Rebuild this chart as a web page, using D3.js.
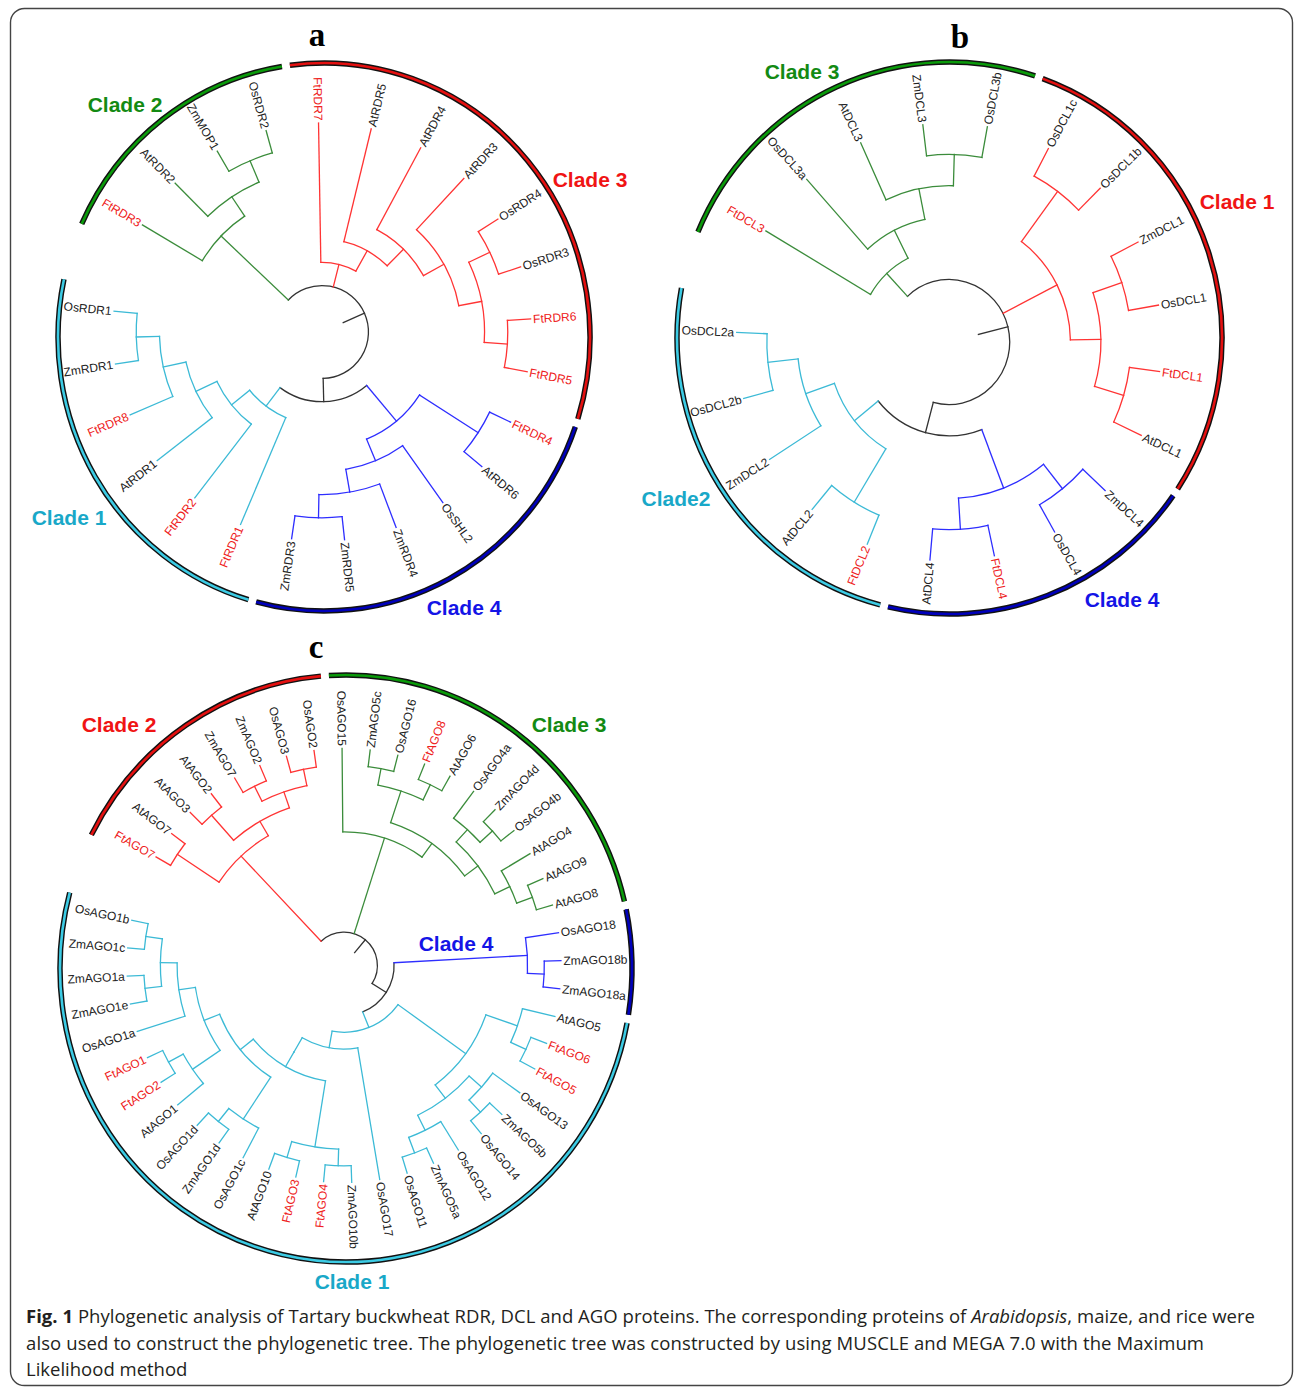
<!DOCTYPE html>
<html>
<head>
<meta charset="utf-8">
<script src="https://cdn.jsdelivr.net/npm/d3@7/dist/d3.min.js"></script>
<style>
  body { margin: 0; background: #fff; }
  svg { display: block; }
</style>
</head>
<body>
<svg id="fig" width="1295" height="1389"></svg>
<script>
// ---------- Panel a: RDR proteins ----------
const rdrNewick = "((FtRDR3,(AtRDR2,(ZmMOP1,OsRDR2))),(FtRDR7,(AtRDR5,(AtRDR4,(AtRDR3,((OsRDR4,OsRDR3),(FtRDR6,FtRDR5)))))),(((FtRDR4,AtRDR6),(OsSHL2,(ZmRDR4,(ZmRDR5,ZmRDR3)))),(FtRDR1,(FtRDR2,(AtRDR1,(FtRDR8,(ZmRDR1,OsRDR1)))))));";
const rdrCladeNames = ["Clade 2", "Clade 3", "Clade 4", "Clade 1"];
const rdrCladeFirst = ["FtRDR3", "FtRDR7", "FtRDR4", "FtRDR1"];
const rdrCladeLast  = ["OsRDR2", "FtRDR5", "ZmRDR3", "OsRDR1"];

// ---------- Panel b: DCL proteins ----------
const dclNewick = "((FtDCL3,(OsDCL3a,(AtDCL3,(ZmDCL3,OsDCL3b)))),((OsDCL1c,OsDCL1b),((ZmDCL1,OsDCL1),(FtDCL1,AtDCL1))),(((ZmDCL4,OsDCL4),(FtDCL4,AtDCL4)),((FtDCL2,AtDCL2),(ZmDCL2,(OsDCL2b,OsDCL2a)))));";
const dclCladeNames = ["Clade 3", "Clade 1", "Clade 4", "Clade2"];
const dclCladeFirst = ["FtDCL3", "OsDCL1c", "ZmDCL4", "FtDCL2"];
const dclCladeLast  = ["OsDCL3b", "AtDCL1", "AtDCL4", "OsDCL2a"];

// ---------- Panel c: AGO proteins ----------
const agoNewick = "(((FtAGO7,AtAGO7),((AtAGO3,AtAGO2),((ZmAGO7,ZmAGO2),(OsAGO3,OsAGO2)))),(OsAGO15,(((ZmAGO5c,OsAGO16),(FtAGO8,AtAGO6)),((OsAGO4a,(ZmAGO4d,OsAGO4b)),(AtAGO4,(AtAGO9,AtAGO8))))),((OsAGO18,(ZmAGO18b,ZmAGO18a)),(((AtAGO5,(FtAGO6,FtAGO5)),((OsAGO13,(ZmAGO5b,OsAGO14)),(OsAGO12,(ZmAGO5a,OsAGO11)))),(OsAGO17,((((ZmAGO10b,FtAGO4),(FtAGO3,AtAGO10)),((OsAGO1c,(ZmAGO1d,OsAGO1d)),((AtAGO1,(FtAGO2,FtAGO1)),(OsAGO1a,((ZmAGO1e,ZmAGO1a),(ZmAGO1c,OsAGO1b)))))))))));";
const agoCladeNames = ["Clade 2", "Clade 3", "Clade 4", "Clade 1"];
const agoCladeFirst = ["FtAGO7", "OsAGO15", "OsAGO18", "AtAGO5"];
const agoCladeLast  = ["OsAGO2", "AtAGO8", "ZmAGO18a", "OsAGO1b"];

// ---------- Caption ----------
const captionLines = [
  [["b", "Fig. 1"], ["n", " Phylogenetic analysis of Tartary buckwheat RDR, DCL and AGO proteins. The corresponding proteins of "], ["i", "Arabidopsis"], ["n", ", maize, and rice were"]],
  [["n", "also used to construct the phylogenetic tree. The phylogenetic tree was constructed by using MUSCLE and MEGA 7.0 with the Maximum"]],
  [["n", "Likelihood method"]]
];

// ---------- Styling ----------
const hue = {
  green: { branch: "#3b8c3b", ring: "#0a9a0a", text: "#138a13" },
  red:   { branch: "#ff3434", ring: "#e41010", text: "#f01414" },
  blue:  { branch: "#2e2eff", ring: "#0000bb", text: "#1414e6" },
  cyan:  { branch: "#3cbad6", ring: "#3ccbe4", text: "#19a8c8" }
};
const backbone = "#333";

// Layout of each panel: tree centre / tip radius / vertical aspect, the clade ring
// ellipse, where the clade names sit, and the panel letter.
const panels = [
  { newick: rdrNewick, names: rdrCladeNames, first: rdrCladeFirst, last: rdrCladeLast,
    hues: ["green", "red", "blue", "cyan"],
    cx: 322, cy: 332, rLeaf: 209, ky: 1.0, start: 300.8, sweep: 349.5, font: 12,
    ring: { cx: 324, cy: 337, rx: 266, ry: 274 },
    labelXY: [[125, 104], [590, 179], [464, 607], [69, 517]],
    letter: "a", letterXY: [317, 46] },
  { newick: dclNewick, names: dclCladeNames, first: dclCladeFirst, last: dclCladeLast,
    hues: ["green", "red", "blue", "cyan"],
    cx: 949, cy: 342, rLeaf: 212.5, ky: 1.03, start: 300.5, sweep: 349.5, font: 12,
    ring: { cx: 949.5, cy: 338, rx: 272.5, ry: 276 },
    labelXY: [[802, 71], [1237, 201], [1122, 599], [676, 498]],
    letter: "b", letterXY: [960, 48] },
  { newick: agoNewick, names: agoCladeNames, first: agoCladeFirst, last: agoCladeLast,
    hues: ["red", "green", "blue", "cyan"],
    cx: 344, cy: 965.5, rLeaf: 217, ky: 1.0, start: 300, sweep: 349.5, font: 12,
    ring: { cx: 346, cy: 968.5, rx: 286, ry: 293.5 },
    labelXY: [[119, 724], [569, 724], [456, 943], [352, 1281]],
    letter: "c", letterXY: [316, 658] }
];

// Minimal Newick reader (topology only)
function parseNewick(s) {
  let i = 0;
  function node() {
    const n = {};
    if (s[i] === "(") {
      i++;
      n.children = [node()];
      while (s[i] === ",") { i++; n.children.push(node()); }
      i++;
    }
    let name = "";
    while (i < s.length && !",();".includes(s[i])) name += s[i++];
    n.name = name.trim();
    return n;
  }
  return node();
}

const svg = d3.select("#fig");
const toRad = d => d * Math.PI / 180;

// angle in degrees, clockwise from 12 o'clock; elliptical radii rx, ry
const pt = (a, rx, ry) => [rx * Math.sin(toRad(a)), -ry * Math.cos(toRad(a))];
const arcPath = (rx, ry, a0, a1) => {
  const s = pt(a0, rx, ry), e = pt(a1, rx, ry);
  const large = Math.abs(a1 - a0) > 180 ? 1 : 0;
  const sweep = a1 >= a0 ? 1 : 0;
  return `M${s[0]},${s[1]}A${rx},${ry} 0 ${large} ${sweep} ${e[0]},${e[1]}`;
};

// frame
svg.append("rect")
  .attr("x", 10.5).attr("y", 8.5).attr("width", 1282).attr("height", 1377)
  .attr("rx", 14).attr("fill", "none").attr("stroke", "#444").attr("stroke-width", 1.4);

panels.forEach(p => {
  const g = svg.append("g").attr("transform", `translate(${p.cx},${p.cy})`);
  const root = d3.hierarchy(parseNewick(p.newick));
  const leaves = root.leaves();
  const n = leaves.length;
  const step = p.sweep / n;
  const angle = d3.scaleLinear().domain([0, n - 1]).range([p.start, p.start + (n - 1) * step]);
  const radius = d3.scaleLinear().domain([0, root.height + 2]).range([p.rLeaf, 0]);

  const index = new Map();
  leaves.forEach((l, i) => { l.a = angle(i); index.set(l.data.name, i); });
  root.eachAfter(d => {
    if (d.children) {
      d.a = (d.children[0].a + d.children[d.children.length - 1].a) / 2;
      d.lo = d.children[0].lo; d.hi = d.children[d.children.length - 1].hi;
    } else {
      d.lo = d.hi = index.get(d.data.name);
    }
  });

  const clades = p.names.map((name, k) => ({
    name, hue: hue[p.hues[k]], lo: index.get(p.first[k]), hi: index.get(p.last[k]), xy: p.labelXY[k]
  }));
  const colourOf = d => {
    const c = clades.find(c => d.lo >= c.lo && d.hi <= c.hi);
    return c ? c.hue.branch : backbone;
  };

  const P = (a, r) => pt(a, r, r * p.ky);
  const radial = (a, r0, r1) => {
    const s = P(a, r0), e = P(a, r1);
    return `M${s[0]},${s[1]}L${e[0]},${e[1]}`;
  };

  const branches = g.append("g").attr("fill", "none").attr("stroke-width", 1.3).attr("stroke-linecap", "square");
  // root stub
  branches.append("path").attr("d", radial(root.a, radius(root.height + 1), radius(root.height))).attr("stroke", backbone);
  root.descendants().forEach(d => {
    if (d.parent) {
      branches.append("path").attr("d", radial(d.a, radius(d.parent.height), radius(d.height))).attr("stroke", colourOf(d));
    }
    if (d.children) {
      const a0 = d.children[0].a, a1 = d.children[d.children.length - 1].a;
      const r = radius(d.height);
      branches.append("path").attr("d", arcPath(r, r * p.ky, a0, a1)).attr("stroke", colourOf(d));
    }
  });

  // tip labels
  const lab = g.append("g").attr("font-family", "Liberation Sans, Arial, sans-serif").attr("font-size", p.font);
  leaves.forEach(l => {
    const a = ((l.a % 360) + 360) % 360;
    const right = a < 180;
    const [x, y] = P(l.a, p.rLeaf + 2.5);
    lab.append("text")
      .attr("transform", `translate(${x},${y}) rotate(${right ? a - 90 : a + 90})`)
      .attr("text-anchor", right ? "start" : "end")
      .attr("dy", "0.36em")
      .attr("fill", l.data.name.startsWith("Ft") ? "#ee2020" : "#222")
      .text(l.data.name);
  });

  // clade rings (drawn around their own centre) and names
  const ringG = svg.append("g").attr("transform", `translate(${p.ring.cx},${p.ring.cy})`);
  const trim = 4 / p.ring.rx * 180 / Math.PI;
  clades.forEach(c => {
    const a0 = angle(c.lo) - step / 2 + trim, a1 = angle(c.hi) + step / 2 - trim;
    const d = arcPath(p.ring.rx, p.ring.ry, a0, a1);
    ringG.append("path").attr("d", d).attr("fill", "none").attr("stroke", "#111").attr("stroke-width", 5.5);
    ringG.append("path").attr("d", d).attr("fill", "none").attr("stroke", c.hue.ring).attr("stroke-width", 2.6);
    svg.append("text").attr("x", c.xy[0]).attr("y", c.xy[1]).attr("dy", "0.36em")
      .attr("text-anchor", "middle")
      .attr("font-family", "Liberation Sans, Arial, sans-serif").attr("font-weight", "bold").attr("font-size", 21)
      .attr("fill", c.hue.text).text(c.name);
  });

  svg.append("text").attr("x", p.letterXY[0]).attr("y", p.letterXY[1])
    .attr("text-anchor", "middle").attr("font-family", "Liberation Serif, Times New Roman, serif")
    .attr("font-weight", "bold").attr("font-size", 33).attr("fill", "#000").text(p.letter);
});

// caption
const capWidths = [1229, 1178, null];
captionLines.forEach((line, i) => {
  const t = svg.append("text").attr("x", 26).attr("y", 1323 + i * 26.5)
    .attr("font-family", "Open Sans, Noto Sans, sans-serif").attr("font-size", 18.5).attr("fill", "#231f20");
  if (capWidths[i]) t.attr("textLength", capWidths[i]).attr("lengthAdjust", "spacing");
  line.forEach(([style, str]) => {
    t.append("tspan")
      .attr("font-weight", style === "b" ? "bold" : null)
      .attr("font-style", style === "i" ? "italic" : null)
      .text(str);
  });
});
</script>
</body>
</html>
